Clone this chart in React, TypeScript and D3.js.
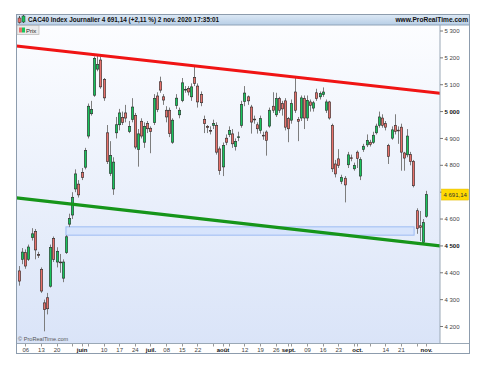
import { useRef, useEffect } from 'react'
import * as d3 from 'd3'

// trading days 2020 (MM-DD)
const DATES = [
  '05-04', '05-05', '05-06', '05-07', '05-08', '05-11', '05-12', '05-13', '05-14', '05-15',
  '05-18', '05-19', '05-20', '05-21', '05-22', '05-25', '05-26', '05-27', '05-28', '05-29',
  '06-01', '06-02', '06-03', '06-04', '06-05', '06-08', '06-09', '06-10', '06-11', '06-12',
  '06-15', '06-16', '06-17', '06-18', '06-19', '06-22', '06-23', '06-24', '06-25', '06-26',
  '06-29', '06-30', '07-01', '07-02', '07-03', '07-06', '07-07', '07-08', '07-09', '07-10',
  '07-13', '07-14', '07-15', '07-16', '07-17', '07-20', '07-21', '07-22', '07-23', '07-24',
  '07-27', '07-28', '07-29', '07-30', '07-31', '08-03', '08-04', '08-05', '08-06', '08-07',
  '08-10', '08-11', '08-12', '08-13', '08-14', '08-17', '08-18', '08-19', '08-20', '08-21',
  '08-24', '08-25', '08-26', '08-27', '08-28', '08-31', '09-01', '09-02', '09-03', '09-04',
  '09-07', '09-08', '09-09', '09-10', '09-11', '09-14', '09-15', '09-16', '09-17', '09-18',
  '09-21', '09-22', '09-23', '09-24', '09-25', '09-28', '09-29', '09-30', '10-01', '10-02',
  '10-05', '10-06', '10-07', '10-08', '10-09', '10-12', '10-13', '10-14', '10-15', '10-16',
  '10-19', '10-20', '10-21', '10-22', '10-23', '10-26', '10-27', '10-28', '10-29', '10-30',
  '11-02',
]

const OPEN = [
  4407, 4450, 4475, 4450, 4531, 4554, 4468, 4413, 4288, 4307,
  4350, 4528, 4440, 4440, 4380, 4475, 4581, 4615, 4712, 4730,
  4774, 4793, 4909, 4992, 5061, 5158, 5192, 5119, 4921, 4770,
  4712, 4921, 4951, 4978, 4995, 4926, 4971, 4986, 4859, 4964,
  4886, 4955, 4938, 4959, 5058, 5111, 5055, 5005, 5005, 4886,
  5023, 4988, 5041, 5081, 5086, 5055, 5127, 5095, 5063, 4971,
  4945, 4930, 4949, 4949, 4861, 4794, 4901, 4914, 4917, 4870,
  4905, 4949, 5038, 5055, 5017, 4972, 4951, 4930, 4912, 4924,
  4946, 5020, 4988, 5048, 5030, 5040, 4974, 4968, 5073, 4971,
  4976, 5048, 4976, 5036, 5013, 5070, 5055, 5063, 5005, 5036,
  4949, 4805, 4824, 4740, 4752, 4802, 4828, 4787, 4849, 4760,
  4859, 4876, 4886, 4885, 4921, 4949, 4976, 4955, 4874, 4901,
  4949, 4931, 4942, 4846, 4839, 4840, 4815, 4631, 4575, 4513,
  4610,
]

const HIGH = [
  4425, 4492, 4487, 4505, 4566, 4563, 4478, 4420, 4300, 4325,
  4505, 4535, 4495, 4470, 4450, 4540, 4620, 4700, 4785, 4745,
  4790, 4865, 5030, 5040, 5205, 5210, 5205, 5125, 4950, 4890,
  4830, 4980, 5010, 5000, 5025, 4965, 5050, 4995, 4935, 4975,
  4960, 4965, 4945, 5065, 5072, 5130, 5065, 5020, 5015, 4975,
  5065, 5015, 5125, 5095, 5095, 5105, 5168, 5105, 5075, 4985,
  4950, 4945, 4970, 4960, 4870, 4885, 4915, 4945, 4935, 4900,
  4925, 5040, 5095, 5060, 5025, 4985, 4960, 4985, 4925, 4930,
  5015, 5072, 5070, 5055, 5040, 5050, 4980, 5045, 5130, 4980,
  5060, 5060, 5060, 5045, 5040, 5085, 5075, 5090, 5045, 5040,
  4955, 4820, 4860, 4765, 4760, 4850, 4840, 4810, 4855, 4830,
  4880, 4915, 4895, 4925, 4955, 5000, 4990, 4965, 4880, 4945,
  4990, 4945, 4955, 4850, 4935, 4850, 4820, 4640, 4630, 4600,
  4705,
]

const LOW = [
  4352, 4432, 4415, 4444, 4520, 4450, 4455, 4325, 4182, 4245,
  4345, 4440, 4420, 4400, 4365, 4470, 4570, 4600, 4700, 4680,
  4745, 4785, 4900, 4985, 5055, 5150, 5085, 5040, 4805, 4760,
  4690, 4900, 4930, 4950, 4960, 4920, 4960, 4860, 4795, 4900,
  4865, 4920, 4845, 4950, 4998, 5070, 5025, 4960, 4905, 4880,
  5010, 4975, 5035, 5070, 5060, 5040, 5095, 5015, 5020, 4920,
  4920, 4915, 4935, 4840, 4765, 4760, 4875, 4905, 4865, 4855,
  4890, 4940, 5020, 5025, 4918, 4955, 4918, 4918, 4895, 4836,
  4940, 4995, 4980, 4995, 4985, 4930, 4886, 4955, 4995, 4890,
  4965, 4935, 4965, 5000, 5000, 5040, 5045, 5055, 4995, 4970,
  4775, 4755, 4790, 4730, 4662, 4790, 4815, 4780, 4790, 4745,
  4850, 4868, 4870, 4880, 4915, 4940, 4940, 4930, 4805, 4895,
  4915, 4880, 4780, 4780, 4830, 4800, 4718, 4545, 4518, 4510,
  4605,
]

const CLOSE = [
  4369, 4477, 4425, 4496, 4545, 4485, 4465, 4332, 4263, 4266,
  4494, 4450, 4480, 4437, 4440, 4534, 4602, 4681, 4768, 4690,
  4755, 4855, 5020, 5008, 5198, 5175, 5092, 5051, 4814, 4836,
  4812, 4951, 4995, 4960, 4976, 4945, 5017, 4868, 4917, 4909,
  4945, 4936, 4926, 5048, 5008, 5080, 5043, 4980, 4918, 4968,
  5050, 5005, 5107, 5083, 5073, 5092, 5105, 5036, 5033, 4955,
  4941, 4928, 4955, 4849, 4780, 4874, 4886, 4930, 4880, 4889,
  4906, 5026, 5069, 5040, 4961, 4970, 4936, 4974, 4910, 4893,
  5005, 5005, 5048, 5005, 5010, 4942, 4936, 5030, 5005, 4964,
  5051, 4976, 5042, 5023, 5033, 5048, 5067, 5073, 5036, 4976,
  4787, 4768, 4799, 4755, 4727, 4839, 4826, 4800, 4826, 4821,
  4871, 4893, 4878, 4912, 4946, 4980, 4949, 4942, 4833, 4932,
  4926, 4930, 4849, 4827, 4909, 4814, 4724, 4565, 4569, 4587,
  4691.14,
]

const Y_TICKS = [4200, 4300, 4400, 4500, 4600, 4700, 4800, 4900, 5000, 5100, 5200, 5300]
const Y_BOLD = [4500, 5000]

const TICK_DATES = [
  '05-06', '05-13', '05-20', '06-01', '06-10', '06-17', '06-24', '07-01', '07-08', '07-15', '07-22', '08-03',
  '08-12', '08-19', '08-26', '09-01', '09-09', '09-16', '09-23', '10-01', '10-14', '10-21', '11-02',
]
const TICK_TEXT = [
  '06', '13', '20', 'juin', '10', '17', '24', 'juil.', '08', '15', '22', 'août',
  '12', '19', '26', 'sept.', '09', '16', '23', 'oct.', '14', '21', 'nov.',
]
const MONTH_LABELS = ['juin', 'juil.', 'août', 'sept.', 'oct.', 'nov.']
const MINOR_TICKS = ['05-27', '06-03', '07-29', '08-05', '09-02', '09-30', '10-07', '10-28']

// trend lines: [day index, price]
const RESISTANCE = [[0, 5243], [130, 5074]]
const SUPPORT = [[0, 4678], [130, 4506]]
// support zone
const ZONE_DAYS = [15, 126.2]
const ZONE_PRICES = [4540, 4571]

const TITLE = 'CAC40 Index Journalier 4 691,14 (+2,11 %) 2 nov. 2020 17:35:01'
const SITE = 'www.ProRealTime.com'

const UP = '#19c45c'
const DOWN = '#e8716b'
const FONT = 'Liberation Sans, Arial, sans-serif'

export default function App() {
  const svgRef = useRef<SVGSVGElement>(null)

  useEffect(() => {
    if (!svgRef.current) return
    const svg = d3.select(svgRef.current)
    svg.selectAll('*').remove()

    const fL = 16.5
    const fR = 469.5
    const fT = 14.5
    const fB = 353.5
    const headB = 25
    const plotR = 440
    const axisT = 343

    const fr = d3.formatLocale({ decimal: ',', thousands: '\u00a0', grouping: [3], currency: ['', ' €'] })
    const fmtInt = fr.format(',')
    const fmtPrice = fr.format(',.2f')

    const x = d3.scaleLinear().domain([0, DATES.length - 1]).range([19, 426])
    const y = d3.scaleLinear().domain([4200, 5300]).range([326.5, 31])
    const idx = (d: string) => DATES.indexOf(d)
    const last = CLOSE[CLOSE.length - 1]

    const defs = svg.append('defs')
    const bg = defs.append('linearGradient').attr('id', 'bg').attr('x1', 0).attr('y1', 0).attr('x2', 0).attr('y2', 1)
    bg.append('stop').attr('offset', '0%').attr('stop-color', '#fcfdff')
    bg.append('stop').attr('offset', '100%').attr('stop-color', '#dae4f8')
    const hd = defs.append('linearGradient').attr('id', 'hd').attr('x1', 0).attr('y1', 0).attr('x2', 0).attr('y2', 1)
    hd.append('stop').attr('offset', '0%').attr('stop-color', '#dde9f5')
    hd.append('stop').attr('offset', '100%').attr('stop-color', '#b7cee6')
    defs.append('clipPath').attr('id', 'plotclip')
      .append('rect').attr('x', fL).attr('y', headB).attr('width', plotR - fL).attr('height', axisT - headB)

    // frame + areas
    svg.append('rect').attr('x', fL).attr('y', fT).attr('width', fR - fL).attr('height', fB - fT).attr('fill', '#fff')
    svg.append('rect').attr('x', fL).attr('y', headB).attr('width', plotR - fL).attr('height', axisT - headB).attr('fill', 'url(#bg)')
    svg.append('rect').attr('x', fL).attr('y', fT).attr('width', fR - fL).attr('height', headB - fT)
      .attr('fill', 'url(#hd)').attr('stroke', '#8fa3b8').attr('stroke-width', 1)

    const plot = svg.append('g').attr('clip-path', 'url(#plotclip)')

    // zone
    plot.append('rect')
      .attr('x', x(ZONE_DAYS[0])).attr('width', x(ZONE_DAYS[1]) - x(ZONE_DAYS[0]))
      .attr('y', y(ZONE_PRICES[1])).attr('height', y(ZONE_PRICES[0]) - y(ZONE_PRICES[1]))
      .attr('fill', '#d4e2fb').attr('fill-opacity', 0.85).attr('stroke', '#9dbcf3').attr('stroke-width', 1)

    // candles
    const ids = d3.range(DATES.length)
    plot.append('g').selectAll('line').data(ids).join('line')
      .attr('x1', (i) => Math.round(x(i)) + 0.5).attr('x2', (i) => Math.round(x(i)) + 0.5)
      .attr('y1', (i) => y(HIGH[i])).attr('y2', (i) => y(LOW[i]))
      .attr('stroke', '#7d7d7d').attr('stroke-width', 1)
    plot.append('g').selectAll('rect').data(ids).join('rect')
      .attr('x', (i) => Math.round(x(i)) - 0.7)
      .attr('width', 2.4)
      .attr('y', (i) => y(Math.max(OPEN[i], CLOSE[i])))
      .attr('height', (i) => Math.max(0.8, Math.abs(y(OPEN[i]) - y(CLOSE[i]))))
      .attr('fill', (i) => (CLOSE[i] >= OPEN[i] ? UP : DOWN))
      .attr('stroke', '#2a2a2a').attr('stroke-width', 0.6)

    // trend lines
    const trend = (pts: number[][], color: string) => {
      const slope = (pts[1][1] - pts[0][1]) / (pts[1][0] - pts[0][0])
      const at = (d: number) => pts[0][1] + slope * (d - pts[0][0])
      const d0 = x.invert(fL)
      const d1 = x.invert(plotR)
      plot.append('line')
        .attr('x1', x(d0)).attr('y1', y(at(d0))).attr('x2', x(d1)).attr('y2', y(at(d1)))
        .attr('stroke', color).attr('stroke-width', 3.2).attr('stroke-linecap', 'round')
    }
    trend(RESISTANCE, '#f01414')
    trend(SUPPORT, '#16951a')

    // plot borders
    svg.append('line').attr('x1', plotR).attr('x2', plotR).attr('y1', headB).attr('y2', axisT).attr('stroke', '#9aa8b6')
    svg.append('line').attr('x1', fL).attr('x2', fR).attr('y1', axisT + 0.5).attr('y2', axisT + 0.5).attr('stroke', '#9aa8b6')
    svg.append('rect').attr('x', fL).attr('y', fT).attr('width', fR - fL).attr('height', fB - fT)
      .attr('fill', 'none').attr('stroke', '#8d9cad')

    // header
    const icon = svg.append('g')
    icon.append('line').attr('x1', 19.5).attr('x2', 19.5).attr('y1', 16).attr('y2', 23.5).attr('stroke', '#555')
    icon.append('rect').attr('x', 18).attr('y', 18).attr('width', 3).attr('height', 4.5).attr('fill', DOWN).attr('stroke', '#333').attr('stroke-width', 0.5)
    icon.append('line').attr('x1', 23.5).attr('x2', 23.5).attr('y1', 15).attr('y2', 23).attr('stroke', '#555')
    icon.append('rect').attr('x', 22).attr('y', 16).attr('width', 3).attr('height', 6).attr('fill', UP).attr('stroke', '#333').attr('stroke-width', 0.5)
    svg.append('text').attr('x', 28).attr('y', 22).attr('font-family', FONT).attr('font-size', 6.4)
      .attr('font-weight', 700).attr('fill', '#111').text(TITLE)
    svg.append('text').attr('x', 468).attr('y', 22).attr('text-anchor', 'end').attr('font-family', FONT)
      .attr('font-size', 6.6).attr('font-weight', 700).attr('fill', '#111').text(SITE)

    // Prix legend
    svg.append('rect').attr('x', 17).attr('y', 25.5).attr('width', 22).attr('height', 9)
      .attr('fill', '#ebebeb').attr('stroke', '#b5b5b5').attr('stroke-width', 0.7)
    svg.append('rect').attr('x', 19).attr('y', 27.5).attr('width', 3).attr('height', 5).attr('fill', DOWN)
    svg.append('rect').attr('x', 22).attr('y', 27.5).attr('width', 3).attr('height', 5).attr('fill', UP)
    svg.append('text').attr('x', 26).attr('y', 32.5).attr('font-family', FONT).attr('font-size', 6).attr('fill', '#222').text('Prix')

    // y axis (labels hidden under the last-price tag)
    const shown = Y_TICKS.filter((d) => Math.abs(y(d) - y(last)) > 9)
    const ya = svg.append('g')
    ya.selectAll('line').data(Y_TICKS).join('line')
      .attr('x1', plotR).attr('x2', plotR + 3).attr('y1', (d) => y(d)).attr('y2', (d) => y(d)).attr('stroke', '#777')
    ya.selectAll('text').data(shown).join('text')
      .attr('x', plotR + 4.5).attr('y', (d) => y(d)).attr('dy', '0.35em')
      .attr('font-family', FONT).attr('font-size', 6)
      .attr('font-weight', (d) => (Y_BOLD.includes(d) ? 700 : 400))
      .attr('fill', (d) => (Y_BOLD.includes(d) ? '#111' : '#444'))
      .text((d) => fmtInt(d))

    // last price tag
    svg.append('rect').attr('x', plotR + 1.5).attr('y', y(last) - 5.5).attr('width', 27).attr('height', 11)
      .attr('fill', '#ffd900').attr('stroke', '#e0b800').attr('stroke-width', 0.5)
    svg.append('text').attr('x', plotR + 3.5).attr('y', y(last)).attr('dy', '0.35em')
      .attr('font-family', FONT).attr('font-size', 6).attr('fill', '#333').text(fmtPrice(last))

    // x axis
    const xa = svg.append('g')
    xa.selectAll('line.major').data(TICK_DATES.concat(MINOR_TICKS)).join('line')
      .attr('x1', (d) => Math.round(x(idx(d))) + 0.5).attr('x2', (d) => Math.round(x(idx(d))) + 0.5)
      .attr('y1', axisT + 1).attr('y2', axisT + 3.5).attr('stroke', '#999')
    xa.selectAll('text').data(TICK_DATES).join('text')
      .attr('x', (d) => x(idx(d)) + 0.5).attr('y', 351.5).attr('text-anchor', 'middle')
      .attr('font-family', FONT).attr('font-size', 6)
      .attr('font-weight', (_d, i) => (MONTH_LABELS.includes(TICK_TEXT[i]) ? 700 : 400))
      .attr('fill', (_d, i) => (MONTH_LABELS.includes(TICK_TEXT[i]) ? '#111' : '#444'))
      .text((_d, i) => TICK_TEXT[i])

    svg.append('text').attr('x', 18).attr('y', 340.5).attr('font-family', FONT).attr('font-size', 5.6)
      .attr('fill', '#555').text('© ProRealTime.com')
  }, [])

  return <svg ref={svgRef} width={485} height={365} style={{ position: 'absolute', left: 0, top: 0, background: '#fff' }} />
}
